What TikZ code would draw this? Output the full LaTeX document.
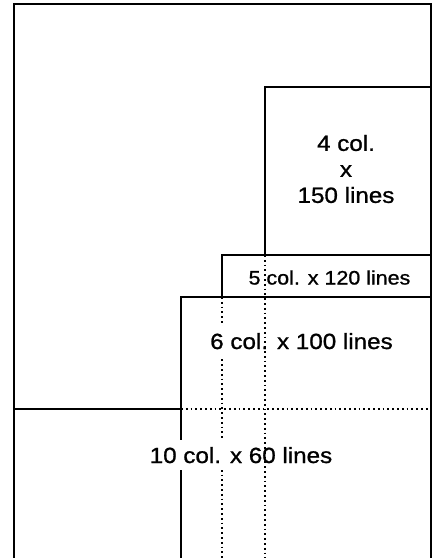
\documentclass[tikz,border=0pt]{standalone}
\usepackage{fontspec}
\setmainfont{Liberation Sans}[FakeStretch=1.1, FakeBold=1]
\begin{document}
\begin{tikzpicture}[x=1pt, y=-1pt,
    edge/.style={line width=2.2pt},
    guide/.style={line width=1.8pt, dash pattern=on 1.8pt off 3pt},
    label/.style={inner sep=0pt, font=\fontsize{22}{26}\selectfont}]
    \useasboundingbox (0, 0) rectangle (435, 558);
    % page and column areas
    \coordinate (PB) at (14, 558);
    \coordinate (PT) at (14, 4);
    \coordinate (PR) at (431, 4);
    \coordinate (PRB) at (431, 558);
    \draw[edge] (PB) -- (PT) -- (PR) -- (PRB);
    \draw[edge] (265, 255) -- (265, 87) -- (431, 87);
    \draw[edge] (222, 297) -- (222, 255) -- (431, 255);
    \draw[edge] (181, 558) -- (181, 297) -- (431, 297);
    \draw[edge] (14, 409) -- (181, 409);
    \draw[guide] (181, 409) -- (431, 409);
    \draw[guide] (222, 297) -- (222, 558);
    % labels
    \node[label, align=center] (C4) at (346, 169) {4 col.\\x\\150 lines};
    \node[label, font=\fontsize{19.5}{24}\selectfont, anchor=base] (C5) at (329.5, 284.5) {5 col. x 120 lines};
    \node[label, fill=white, inner ysep=7pt, anchor=base] (C6) at (301.5, 349) {6 col. x 100 lines};
    \node[label, fill=white, inner ysep=7pt, anchor=base] (C10) at (241, 463) {10 col. x 60 lines};
    \draw[guide] (265, 255) -- (265, 558);
\end{tikzpicture}
\end{document}
